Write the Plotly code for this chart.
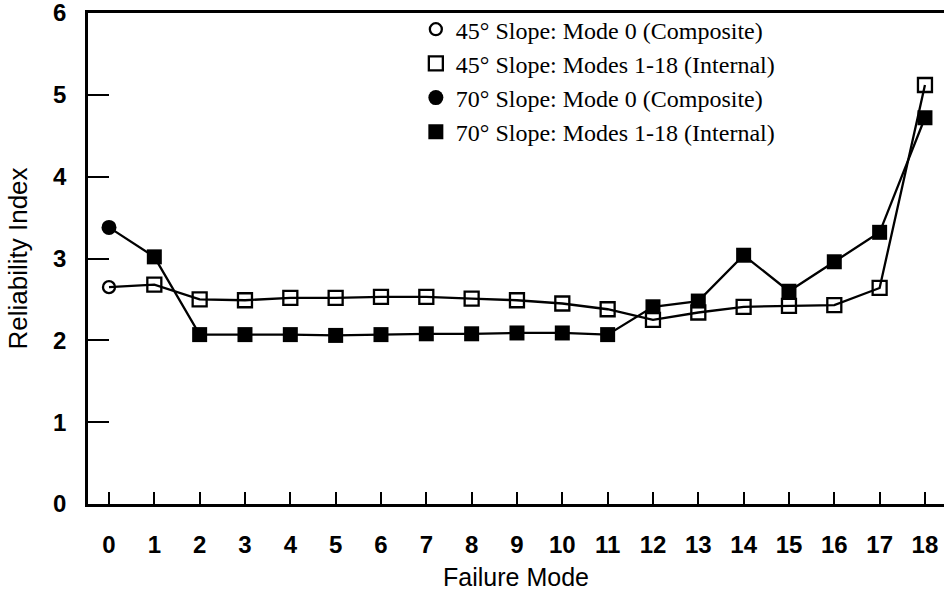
import plotly.graph_objects as go

modes = list(range(0, 19))
slope45 = [2.65, 2.68, 2.50, 2.49, 2.52, 2.52, 2.53, 2.53, 2.51, 2.49,
           2.45, 2.38, 2.25, 2.34, 2.41, 2.42, 2.43, 2.64, 5.12]
slope70 = [3.38, 3.02, 2.07, 2.07, 2.07, 2.06, 2.07, 2.08, 2.08, 2.09,
           2.09, 2.07, 2.41, 2.48, 3.04, 2.60, 2.96, 3.32, 4.72]
x_ticks = list(range(0, 19))
y_ticks = [0, 1, 2, 3, 4, 5, 6]

names = ["45° Slope: Mode 0 (Composite)", "45° Slope: Modes 1-18 (Internal)",
         "70° Slope: Mode 0 (Composite)", "70° Slope: Modes 1-18 (Internal)"]

fig = go.Figure()
# connecting lines
for ys in (slope45, slope70):
    fig.add_trace(go.Scatter(x=modes, y=ys, mode="lines",
                             line=dict(color="black", width=2.3),
                             showlegend=False, hoverinfo="skip"))

fig.add_trace(go.Scatter(x=modes[:1], y=slope45[:1], mode="markers", name=names[0],
                         marker=dict(symbol="circle-open", size=12, color="black",
                                     line=dict(width=2.3))))
fig.add_trace(go.Scatter(x=modes[1:], y=slope45[1:], mode="markers", name=names[1],
                         marker=dict(symbol="square-open", size=14, color="black",
                                     line=dict(width=2.3))))
fig.add_trace(go.Scatter(x=modes[:1], y=slope70[:1], mode="markers", name=names[2],
                         marker=dict(symbol="circle", size=15, color="black")))
fig.add_trace(go.Scatter(x=modes[1:], y=slope70[1:], mode="markers", name=names[3],
                         marker=dict(symbol="square", size=15, color="black")))

fig.update_layout(
    width=944, height=594,
    margin=dict(l=88, r=0, t=13, b=90),
    paper_bgcolor="white", plot_bgcolor="white",
    font=dict(family="Liberation Sans", color="black"),
    legend=dict(x=0.383, y=1.012, xanchor="left", yanchor="top",
                font=dict(family="Liberation Serif", size=24, color="black"),
                bgcolor="rgba(0,0,0,0)", tracegroupgap=0, itemsizing="trace"),
    xaxis=dict(range=[-0.463, 18.42], tickvals=x_ticks,
               ticktext=["<b>%d</b>" % v for v in x_ticks],
               ticks="inside", ticklen=12, tickwidth=2, tickcolor="black",
               showline=True, linewidth=2.5, linecolor="black", mirror=True,
               showgrid=False, zeroline=False,
               tickfont=dict(size=24, family="Liberation Sans"),
               ticklabelstandoff=17, ticklabeloverflow="allow",
               title=dict(text="Failure Mode", font=dict(size=25, family="Liberation Sans"),
                          standoff=12)),
    yaxis=dict(range=[0, 6], tickvals=y_ticks,
               ticktext=["<b>%d</b>" % v for v in y_ticks],
               ticks="inside", ticklen=21, tickwidth=2, tickcolor="black",
               showline=True, linewidth=2.5, linecolor="black", mirror=False,
               showgrid=False, zeroline=False,
               tickfont=dict(size=24, family="Liberation Sans"),
               ticklabelstandoff=14, ticklabeloverflow="allow",
               title=dict(text="Reliability Index", font=dict(size=26, family="Liberation Sans"),
                          standoff=18)),
)

fig.write_html("out.html")
